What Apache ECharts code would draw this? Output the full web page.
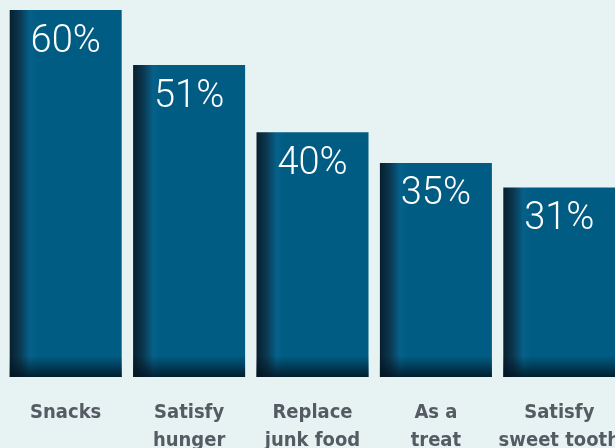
<!DOCTYPE html>
<html>
<head>
<meta charset="utf-8">
<style>
	html, body { margin: 0; padding: 0; background: #e7f3f3; }
	#chart { width: 615px; height: 448px; }
</style>
<script src="https://cdn.jsdelivr.net/npm/echarts@6/dist/echarts.min.js"></script>
</head>
<body>
<div id="chart"></div>
<script>
// 数据
var categories = ['Snacks', 'Satisfy\nhunger', 'Replace\njunk food', 'As a\ntreat', 'Satisfy\nsweet tooth'];
var values = [60, 51, 40, 35, 31];

var myChart = echarts.init(document.getElementById('chart'));

// 左侧暗边
var sideShade = new echarts.graphic.LinearGradient(0, 0, 1, 0, [
	{ offset: 0, color: '#07202e' },
	{ offset: 0.09, color: '#0b3850' },
	{ offset: 0.18, color: '#06618a' },
	{ offset: 0.25, color: '#005c82' },
	{ offset: 1, color: '#005c82' }
]);
// 底部暗边（全局坐标）
var bottomShade = new echarts.graphic.LinearGradient(0, 356, 0, 377, [
	{ offset: 0, color: 'rgba(2,20,32,0)' },
	{ offset: 1, color: 'rgba(2,20,32,0.85)' }
], true);

myChart.setOption({
	backgroundColor: '#e7f3f3',
	animation: false,
	grid: { left: 4, top: 10, width: 617, bottom: 71, outerBoundsMode: 'none', containLabel: false },
	xAxis: {
		type: 'category',
		data: categories,
		axisLine: { show: false },
		axisTick: { show: false },
		axisLabel: {
			margin: 22,
			color: '#555b63',
			fontFamily: '"Liberation Sans Narrow", "DejaVu Sans Condensed", sans-serif',
			fontWeight: 'bold',
			fontSize: 20,
			lineHeight: 28,
			interval: 0
		}
	},
	yAxis: {
		type: 'value',
		min: 0,
		max: 60,
		show: false,
		splitLine: { show: false }
	},
	series: [{
		type: 'bar',
		data: values,
		barWidth: 112,
		itemStyle: { color: sideShade }
	}, {
		type: 'bar',
		data: values,
		barWidth: 112,
		barGap: '-100%',
		itemStyle: { color: bottomShade },
		label: {
			show: true,
			position: 'insideTop',
			distance: 13,
			formatter: '{c}%',
			color: '#ffffff',
			fontFamily: 'Roboto, "Open Sans", sans-serif',
			fontWeight: 300,
			fontSize: 38
		}
	}]
});
</script>
</body>
</html>
